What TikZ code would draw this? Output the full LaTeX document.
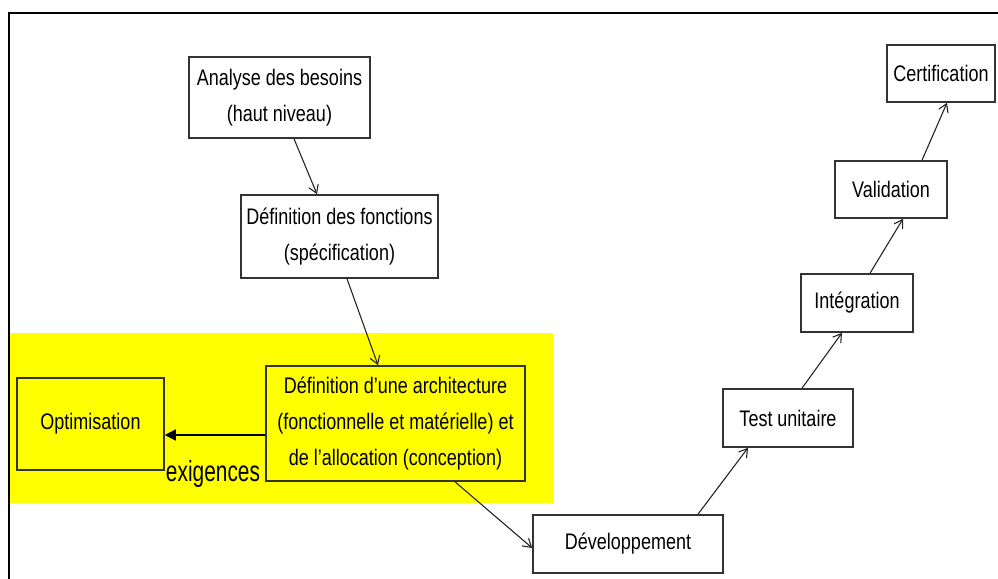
\documentclass[tikz,border=0pt]{standalone}
\usepackage{fontspec}
\setmainfont{Liberation Sans}[FakeStretch=0.8]
\newfontfamily\labelfont{Liberation Sans}[FakeStretch=0.72]
\usetikzlibrary{arrows.meta}
\definecolor{hilite}{HTML}{FFFF00}
\tikzset{
  stepbox/.style={draw=black!80, line width=1.6pt, inner sep=0pt, align=center,
    font=\fontsize{22.5}{36}\selectfont},
  flow/.style={draw=black!85, line width=1.1pt, -{Straight Barb[length=8pt,width=10pt,line width=1.1pt]}},
  feed/.style={draw=black, line width=1.4pt, -{Triangle[length=11pt,width=11pt]}},
}
\begin{document}
\begin{tikzpicture}[x=1pt,y=-1pt]
  \useasboundingbox (0,0) rectangle (998,578);
  \fill[white] (0,0) rectangle (998,578);
  % highlighted design zone
  \fill[hilite] (10,333) rectangle (553,503);
  % frame
  \draw[line width=2.8pt, line cap=rect] (9,578) -- (9,13) -- (998,13);

  % left branch of the V
  \node[stepbox, minimum width=181pt, minimum height=81pt] (analyse) at (279.5,97.5)
    {Analyse des besoins\\(haut niveau)};
  \node[stepbox, minimum width=197pt, minimum height=83pt] (fonctions) at (339.5,236.5)
    {Définition des fonctions\\(spécification)};
  \node[stepbox, minimum width=259pt, minimum height=115pt] (archi) at (395.5,423.5)
    {Définition d’une architecture\\(fonctionnelle et matérielle) et\\de l’allocation (conception)};
  \node[stepbox, minimum width=147pt, minimum height=92pt] (optim) at (90.5,424)
    {Optimisation};

  % bottom and right branch
  \node[stepbox, fill=white, minimum width=190pt, minimum height=58pt] (dev) at (628,544)
    {Développement};
  \node[stepbox, fill=white, minimum width=130pt, minimum height=58pt] (test) at (788,418)
    {Test unitaire};
  \node[stepbox, fill=white, minimum width=112pt, minimum height=58pt] (integ) at (857,303)
    {Intégration};
  \node[stepbox, fill=white, minimum width=112pt, minimum height=57pt] (valid) at (891,189.5)
    {Validation};
  \node[stepbox, fill=white, minimum width=108pt, minimum height=57pt] (certif) at (941,73.5)
    {Certification};

  % connectors
  \draw[flow] ([xshift=14.5pt]analyse.south) -- ([xshift=-22.5pt]fonctions.north);
  \draw[flow] ([xshift=7.5pt]fonctions.south) -- ([xshift=-17.5pt]archi.north);
  \coordinate (req) at ([yshift=-11.5pt]archi.west);
  \draw[feed] (req) -- (req -| optim.east);
  \node[anchor=base, font=\labelfont\fontsize{29}{30}\selectfont, inner sep=0pt] (exig) at (213,481.5) {exigences};
  \draw[flow] ([xshift=59.5pt]archi.south) -- ([yshift=-4pt]dev.west);
  \draw[flow] ([xshift=70pt]dev.north) -- ([xshift=-40pt]test.south);
  \draw[flow] ([xshift=14pt]test.north) -- ([xshift=-15pt]integ.south);
  \draw[flow] ([xshift=13pt]integ.north) -- ([xshift=12pt]valid.south);
  \draw[flow] ([xshift=31pt]valid.north) -- ([xshift=6pt]certif.south);
\end{tikzpicture}
\end{document}
